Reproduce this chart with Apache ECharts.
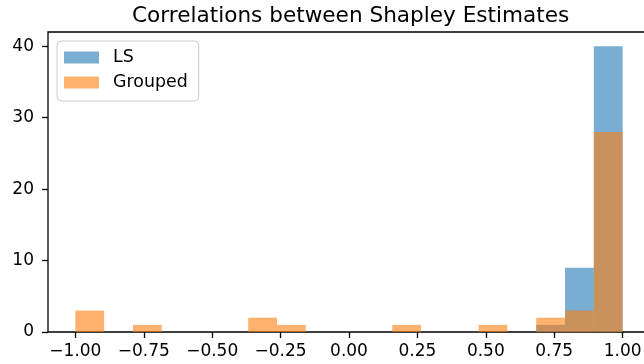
<!DOCTYPE html>
<html>
<head>
<meta charset="utf-8">
<script src="https://cdn.jsdelivr.net/npm/echarts@6/dist/echarts.min.js"></script>
<style>
  html, body { margin: 0; padding: 0; background: #fff; }
  #chart { width: 644px; height: 364px; }
</style>
</head>
<body>
<div id="chart"></div>
<script>
// histogram bins: np.linspace(-1, 1, 20) -> 19 bins
var binMin = -1, binMax = 1, binCount = 19;
var lsCounts      = [0, 0, 0, 0, 0, 0, 0, 0, 0, 0, 0, 0, 0, 0, 0, 0, 1, 9, 40];
var groupedCounts = [3, 0, 1, 0, 0, 0, 2, 1, 0, 0, 0, 1, 0, 0, 1, 0, 2, 3, 28];
var xTicks = [-1, -0.75, -0.5, -0.25, 0, 0.25, 0.5, 0.75, 1];
var yTicks = [0, 10, 20, 30, 40];

var myChart = echarts.init(document.getElementById('chart'), null, { renderer: 'canvas' });

// turn counts into [start, end, count] rows
function toBins(counts) {
    var w = (binMax - binMin) / binCount;
    var res = [];
    for (var i = 0; i < counts.length; i++) {
        res.push([binMin + i * w, binMin + (i + 1) * w, counts[i]]);
    }
    return res;
}

function renderBar(params, api) {
    var p0 = api.coord([api.value(0), api.value(2)]);
    var p1 = api.coord([api.value(1), 0]);
    return {
        type: 'rect',
        shape: { x: p0[0], y: p0[1], width: p1[0] - p0[0], height: p1[1] - p0[1] },
        style: api.style()
    };
}

var font = 'DejaVu Sans';

var option = {
    animation: false,
    title: {
        text: 'Correlations between Shapley Estimates',
        left: 127,
        top: 0,
        textStyle: { fontFamily: font, fontSize: 21.6, fontWeight: 'normal', color: '#000' }
    },
    legend: {
        orient: 'vertical',
        left: 57,
        top: 41,
        padding: [8, 11, 10, 7],
        itemWidth: 35,
        itemHeight: 12,
        itemGap: 8,
        icon: 'rect',
        backgroundColor: 'rgba(255,255,255,0.8)',
        borderColor: '#cccccc',
        borderWidth: 1,
        borderRadius: 4,
        textStyle: { fontFamily: font, fontSize: 17.4, lineHeight: 17, color: '#000', padding: [0, 0, 0, 9] },
        data: ['LS', 'Grouped']
    },
    grid: {
        left: 48,
        top: 32,
        width: 602,
        height: 300,
        outerBoundsMode: 'none',
        containLabel: false,
        show: true,
        borderColor: '#000',
        borderWidth: 1.3,
        backgroundColor: 'transparent'
    },
    xAxis: {
        type: 'value',
        min: -1.1,
        max: 1.1,
        splitLine: { show: false },
        axisLine: { show: false, onZero: false },
        axisTick: { show: true, length: 6, customValues: xTicks, lineStyle: { color: '#000', width: 1.3 } },
        axisLabel: {
            customValues: xTicks,
            margin: 11,
            fontFamily: font,
            fontSize: 17,
            color: '#000',
            formatter: function (v) {
                return (v < 0 ? '\u2212' : '') + Math.abs(v).toFixed(2);
            }
        }
    },
    yAxis: {
        type: 'value',
        min: 0,
        max: 42,
        splitLine: { show: false },
        axisLine: { show: false, onZero: false },
        axisTick: { show: true, length: 6, customValues: yTicks, lineStyle: { color: '#000', width: 1.3 } },
        axisLabel: {
            customValues: yTicks,
            margin: 14,
            fontFamily: font,
            fontSize: 17,
            color: '#000'
        }
    },
    series: [
        {
            name: 'LS',
            type: 'custom',
            renderItem: renderBar,
            encode: { x: [0, 1], y: 2 },
            itemStyle: { color: 'rgba(31,119,180,0.6)' },
            data: toBins(lsCounts)
        },
        {
            name: 'Grouped',
            type: 'custom',
            renderItem: renderBar,
            encode: { x: [0, 1], y: 2 },
            itemStyle: { color: 'rgba(255,127,14,0.6)' },
            data: toBins(groupedCounts)
        }
    ]
};

myChart.setOption(option);
</script>
</body>
</html>
